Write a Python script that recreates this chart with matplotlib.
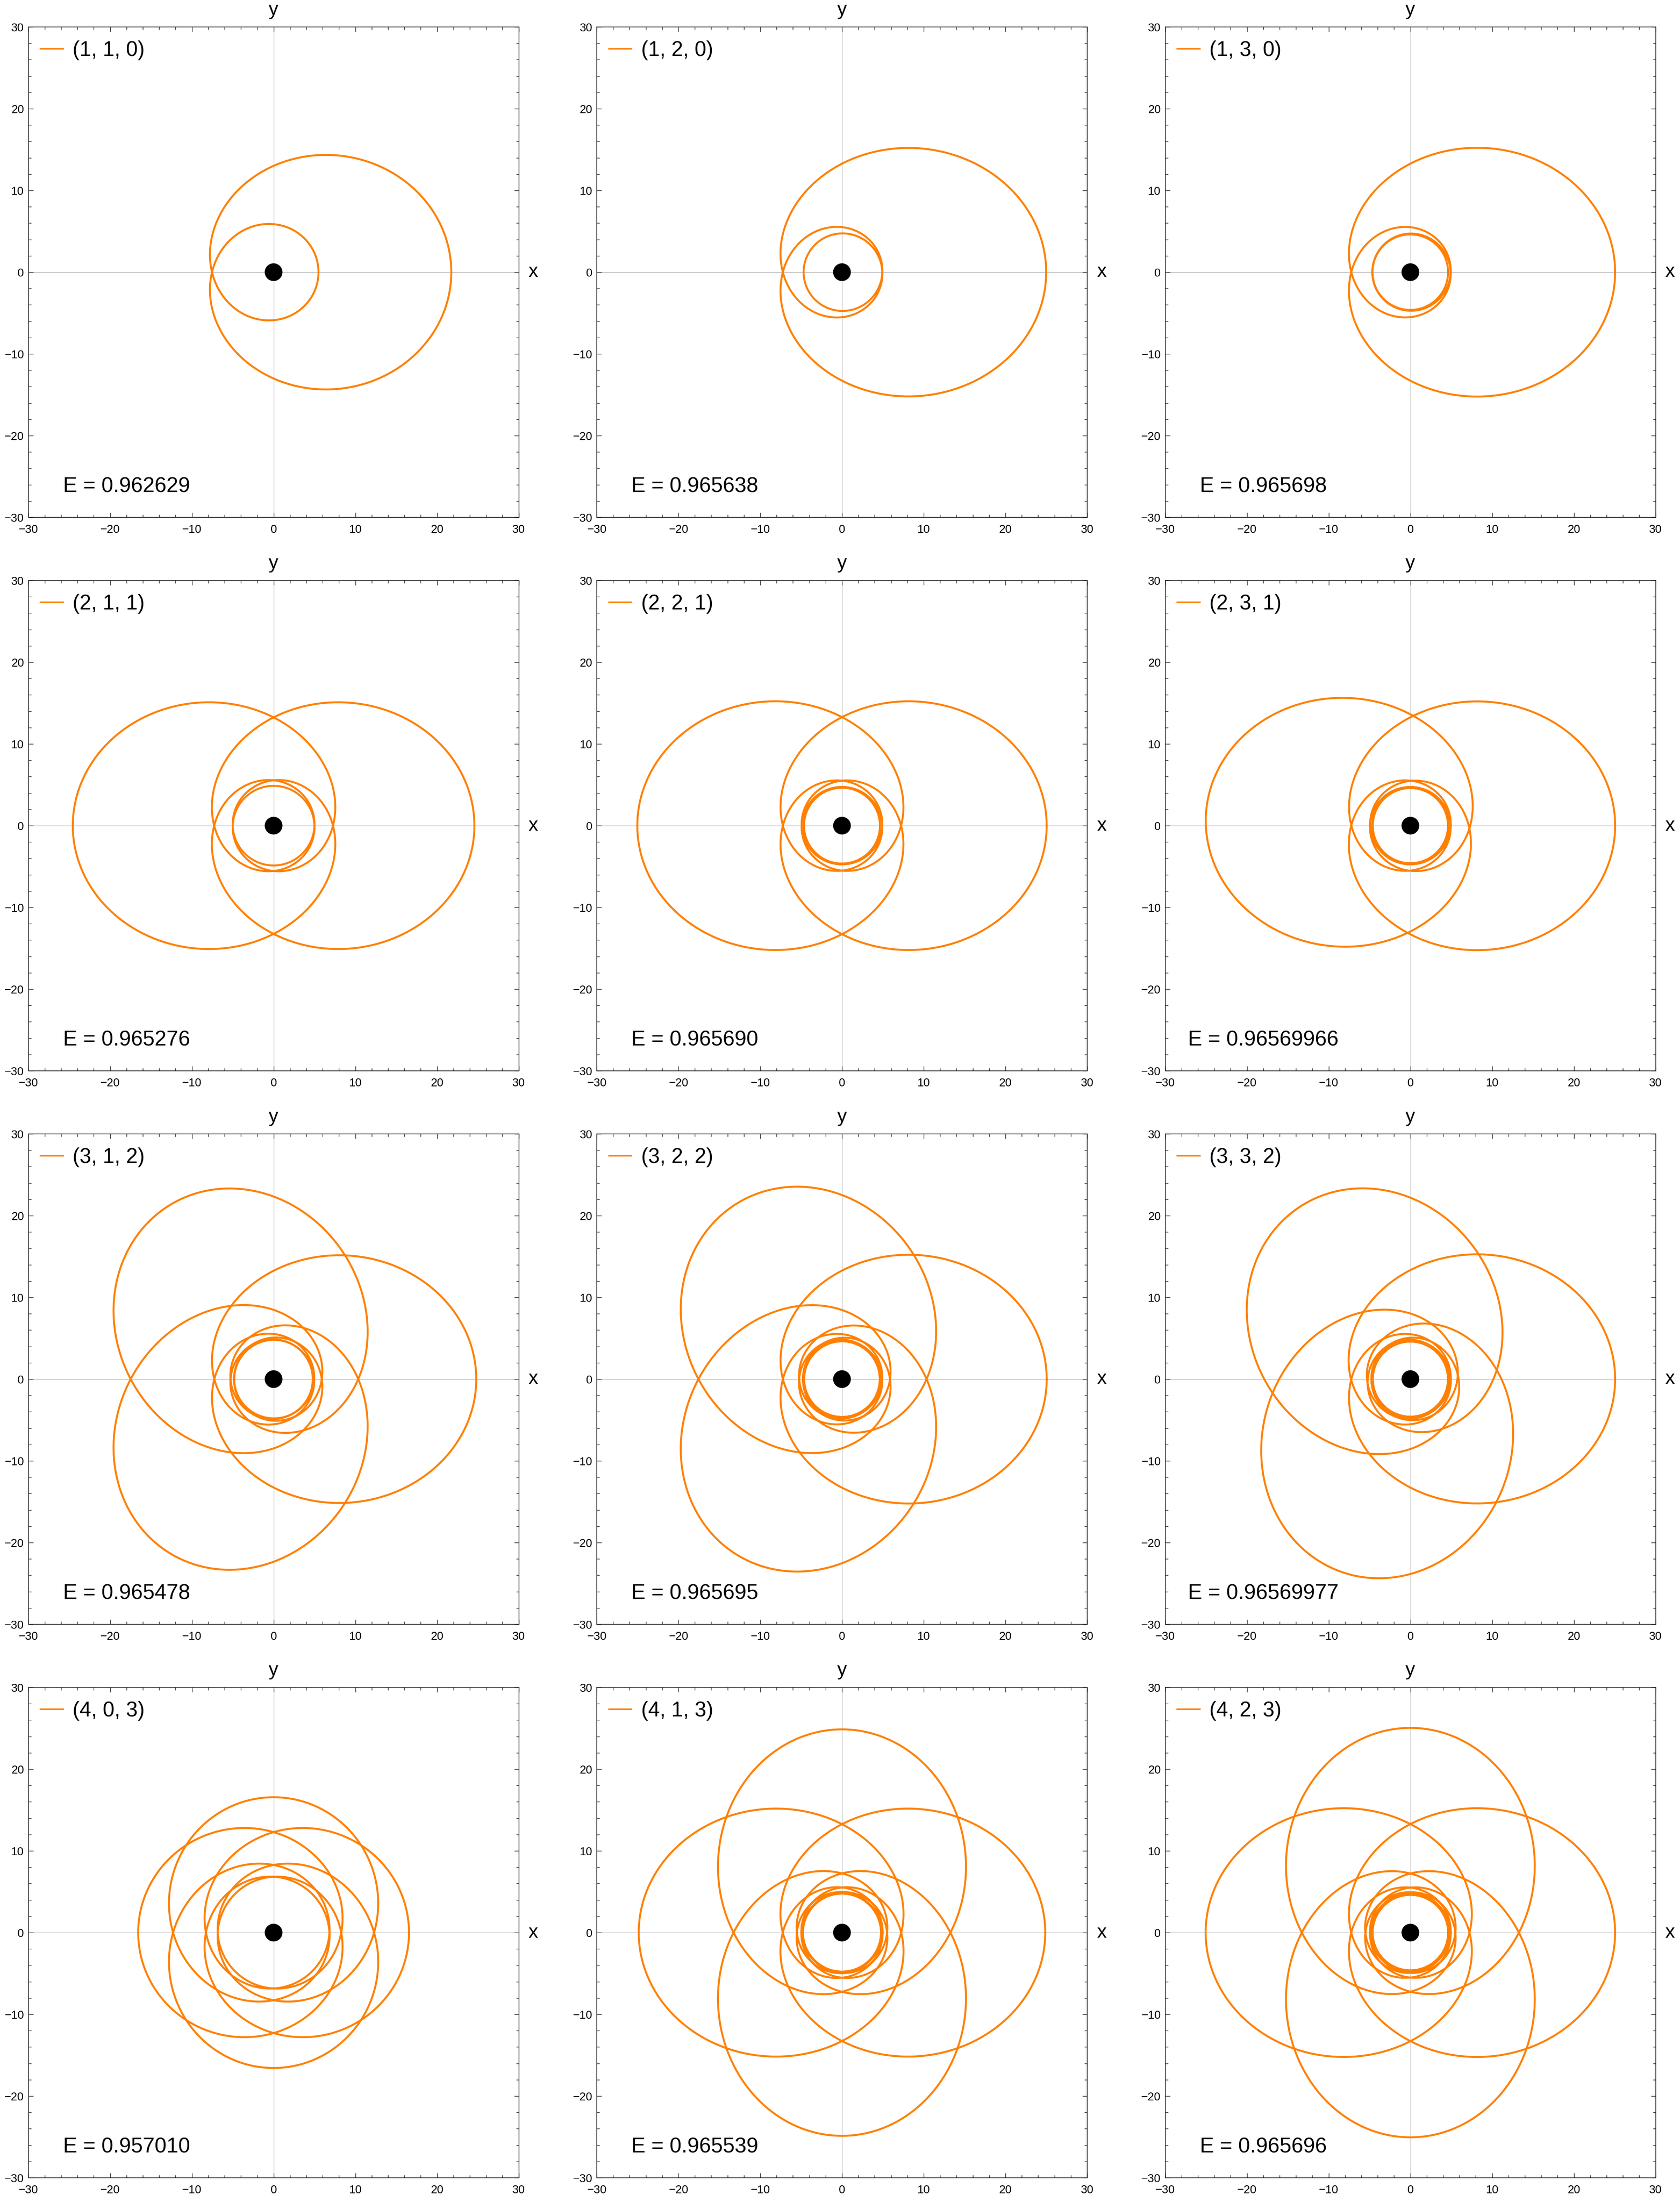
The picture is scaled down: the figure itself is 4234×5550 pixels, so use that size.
import numpy as np
import matplotlib
matplotlib.use('Agg')
import matplotlib.pyplot as plt
from matplotlib.patches import Circle
from matplotlib.ticker import MultipleLocator

plt.rcParams['font.family'] = ['Liberation Sans', 'DejaVu Sans']

# periodic orbits labelled by (z, w, v): z leaves, w whirls, v vertex skip
zs = [1, 1, 1, 2, 2, 2, 3, 3, 3, 4, 4, 4]
ws = [1, 2, 3, 1, 2, 3, 1, 2, 3, 0, 1, 2]
vs = [0, 0, 0, 1, 1, 1, 2, 2, 2, 3, 3, 3]
energies = ['0.962629', '0.965638', '0.965698',
            '0.965276', '0.965690', '0.96569966',
            '0.965478', '0.965695', '0.96569977',
            '0.957010', '0.965539', '0.965696']
# extra precession (deg) per radial period
drifts = [[0], [0], [0],
          [0, 0], [0, 0], [-3, 3],
          [0, 0, 0], [0, 0, 0], [10, -8, -2],
          [0, 0, 0, 0], [0, 0, 0, 0], [0, 0, 0, 0]]

L = 3.735   # angular momentum in units of M
M = 1.053   # length scale used in the plot

orange = '#ff8000'

# circular orbits (stable / unstable) for this L
sq = np.sqrt(L**4 - 12 * L**2)
u_s = 2 / (L**2 + sq)
u_u = 2 / (L**2 - sq)


def other_roots(u2):
    # (du/dphi)^2 = 2 (u - u1)(u2 - u)(u3 - u) with u2 the periastron
    a = u2 - 0.5
    b = 1 / L**2 + a * u2
    d = np.sqrt(max(a * a - 4 * b, 0.0))
    return (-a - d) / 2, (-a + d) / 2


def dphi_dchi(chi, u1, u2, u3):
    u = u1 + (u2 - u1) * (1 - np.cos(chi)) / 2
    return 1 / np.sqrt(2 * (u3 - u))


def radial_advance(u2, n=40000):
    u1, u3 = other_roots(u2)
    chi = np.linspace(0, 2 * np.pi, n, endpoint=False) + np.pi / n
    return dphi_dchi(chi, u1, u2, u3).mean() * 2 * np.pi


def find_periastron(target):
    lo, hi = u_s * (1 + 1e-9), u_u * (1 - 1e-13)
    for _ in range(90):
        mid = (lo + hi) / 2
        if radial_advance(mid) < target:
            lo = mid
        else:
            hi = mid
    return (lo + hi) / 2


def orbit(z, w, v, drift):
    target = 2 * np.pi * (1 + w + v / z)
    u2 = find_periastron(target)
    u1, u3 = other_roots(u2)
    n = 30000
    chi = np.linspace(0, 2 * np.pi, n + 1)
    f = dphi_dchi(chi, u1, u2, u3)
    phi = np.concatenate([[0], np.cumsum((f[1:] + f[:-1]) / 2 * np.diff(chi))])
    phi *= target / phi[-1]
    r = M / (u1 + (u2 - u1) * (1 - np.cos(chi)) / 2)
    xs, ys = [], []
    start = 0.0
    for k in range(z):
        p = start + phi * (1 + np.radians(drift[k]) / target)
        xs.append(r * np.cos(p))
        ys.append(r * np.sin(p))
        start = p[-1]
    return np.concatenate(xs), np.concatenate(ys)


W, H = 4234, 5550
box = 1236
lefts = [71.5, 1504, 2936.5]
tops = [68, 1463, 2858, 4253]

fig = plt.figure(figsize=(W / 100, H / 100), dpi=100)
fig.patch.set_facecolor('white')

for i in range(12):
    row, col = divmod(i, 3)
    ax = fig.add_axes([lefts[col] / W, 1 - (tops[row] + box) / H, box / W, box / H])
    ax.set_xlim(-30, 30)
    ax.set_ylim(-30, 30)

    ax.axhline(0, color='#a6a6a6', lw=0.9, zorder=0)
    ax.axvline(0, color='#a6a6a6', lw=0.9, zorder=0)

    x, y = orbit(zs[i], ws[i], vs[i], drifts[i])
    ax.plot(x, y, color=orange, lw=3.5, solid_joinstyle='round',
            label='(%d, %d, %d)' % (zs[i], ws[i], vs[i]))
    ax.add_patch(Circle((0, 0), 1.05, color='black', zorder=5))

    leg = ax.legend(loc='upper left', bbox_to_anchor=(0.025, 0.9725),
                    borderaxespad=0, borderpad=0, handlelength=1.07,
                    handletextpad=0.46, frameon=False, fontsize=38)
    leg.get_lines()[0].set_linewidth(2.9)

    ax.text(0.2, 0.051, 'E = ' + energies[i], transform=ax.transAxes,
            ha='center', va='baseline', fontsize=38.5)
    ax.text(0.5, 1.034, 'y', transform=ax.transAxes, ha='center',
            va='center', fontsize=35)
    ax.text(1.0295, 0.5, 'x', transform=ax.transAxes, ha='center',
            va='center', fontsize=35)

    ax.xaxis.set_major_locator(MultipleLocator(10))
    ax.yaxis.set_major_locator(MultipleLocator(10))
    ax.xaxis.set_minor_locator(MultipleLocator(2))
    ax.yaxis.set_minor_locator(MultipleLocator(2))
    ax.tick_params(which='both', direction='in', top=True, right=True,
                   color='#1a1a1a', labelsize=21)
    ax.tick_params(which='major', length=8.3, width=1.0)
    ax.tick_params(which='minor', length=4.7, width=1.0)
    ax.tick_params(axis='x', pad=12)
    ax.tick_params(axis='y', pad=8)
    for s in ax.spines.values():
        s.set_linewidth(1.2)
        s.set_color('#1a1a1a')

fig.savefig('out.png', dpi=100, facecolor='white')
